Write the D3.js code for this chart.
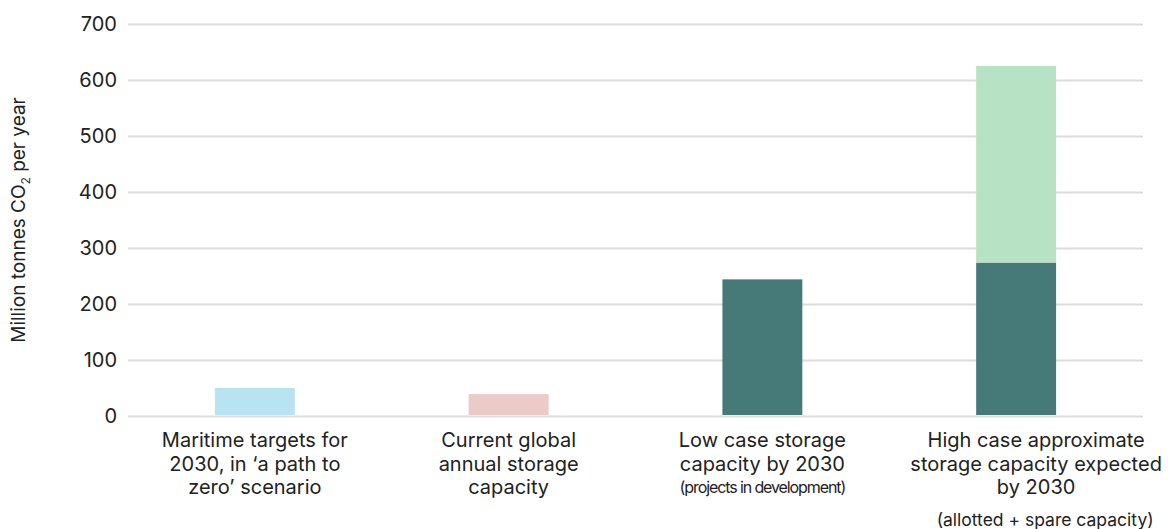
<!DOCTYPE html>
<html>
<head>
<meta charset="utf-8">
<script src="https://cdn.jsdelivr.net/npm/d3@7"></script>
<style>
  html, body { margin: 0; padding: 0; background: #fff; }
  text { font-family: Inter, "Liberation Sans", Arial, sans-serif; fill: #222; }
</style>
</head>
<body>
<svg id="chart" width="1176" height="529"></svg>
<script>
const categories = ["maritime", "current", "low", "high"];
const categoryLabels = [
  ["Maritime targets for", "2030, in \u2018a path to", "zero\u2019 scenario"],
  ["Current global", "annual storage", "capacity"],
  ["Low case storage", "capacity by 2030"],
  ["High case approximate", "storage capacity expected", "by 2030"]
];
const categoryNotes = ["", "", "(projects in development)", "(allotted + spare capacity)"];
const baseValues = [50, 39, 244, 274];
const extraValues = [0, 0, 0, 351];
const baseColors = ["#b8e3f2", "#ebcac8", "#457a79", "#457a79"];
const extraColor = "#b8e2c4";
const yTicks = [0, 100, 200, 300, 400, 500, 600, 700];

(function () {
const svg = d3.select("#chart");
const mLeft = 128, mRight = 1143, mTop = 24, mBottom = 416;

const x = d3.scaleBand().domain(categories).range([mLeft, mRight])
  .paddingInner(0.685).paddingOuter(0.3425);
const y = d3.scaleLinear().domain([0, 700]).range([mBottom, mTop]);

// gridlines
const yAxis = d3.axisLeft(y).tickValues(yTicks).tickSize(-(mRight - mLeft)).tickPadding(11);
const gAxis = svg.append("g").attr("transform", `translate(${mLeft},0)`).call(yAxis);
gAxis.select(".domain").remove();
gAxis.selectAll(".tick line").attr("stroke", "#dcdcdc").attr("stroke-width", 2);
gAxis.selectAll(".tick text").style("font-size", "20px").attr("fill", "#222")
  .style("font-family", "Inter, 'Liberation Sans', Arial, sans-serif");

// bars
const bars = svg.append("g");
categories.forEach((c, i) => {
  bars.append("rect")
    .attr("x", x(c)).attr("width", x.bandwidth())
    .attr("y", y(baseValues[i])).attr("height", y(0) - y(baseValues[i]) - 1)
    .attr("fill", baseColors[i]);
  if (extraValues[i] > 0) {
    bars.append("rect")
      .attr("x", x(c)).attr("width", x.bandwidth())
      .attr("y", y(baseValues[i] + extraValues[i]))
      .attr("height", y(baseValues[i]) - y(baseValues[i] + extraValues[i]))
      .attr("fill", extraColor);
  }
});

// category labels
const labels = svg.append("g");
categories.forEach((c, i) => {
  const cx = x(c) + x.bandwidth() / 2 + (i === 3 ? 20 : 0);
  const lines = categoryLabels[i];
  const t = labels.append("text").attr("text-anchor", "middle").style("font-size", "20px");
  lines.forEach((l, j) => {
    t.append("tspan").attr("x", cx).attr("y", 447 + j * 23.5).text(l);
  });
  if (categoryNotes[i]) {
    const ny = i === 3 ? 526 : 446 + lines.length * 23.5;
    labels.append("text").attr("text-anchor", "middle")
      .attr("x", cx + (i === 3 ? 9 : 0)).attr("y", ny)
      .style("font-size", i === 3 ? "17.5px" : "16px")
      .style("letter-spacing", i === 3 ? "0px" : "-1.1px")
      .text(categoryNotes[i]);
  }
});

// y axis title
const title = svg.append("text")
  .attr("transform", `translate(25,${(mTop + mBottom) / 2}) rotate(-90)`)
  .attr("text-anchor", "middle")
  .style("font-size", "19px");
title.append("tspan").text("Million tonnes CO");
title.append("tspan").attr("dy", 5).style("font-size", "12px").text("2");
title.append("tspan").attr("dy", -5).text(" per year");
})();
</script>
</body>
</html>
